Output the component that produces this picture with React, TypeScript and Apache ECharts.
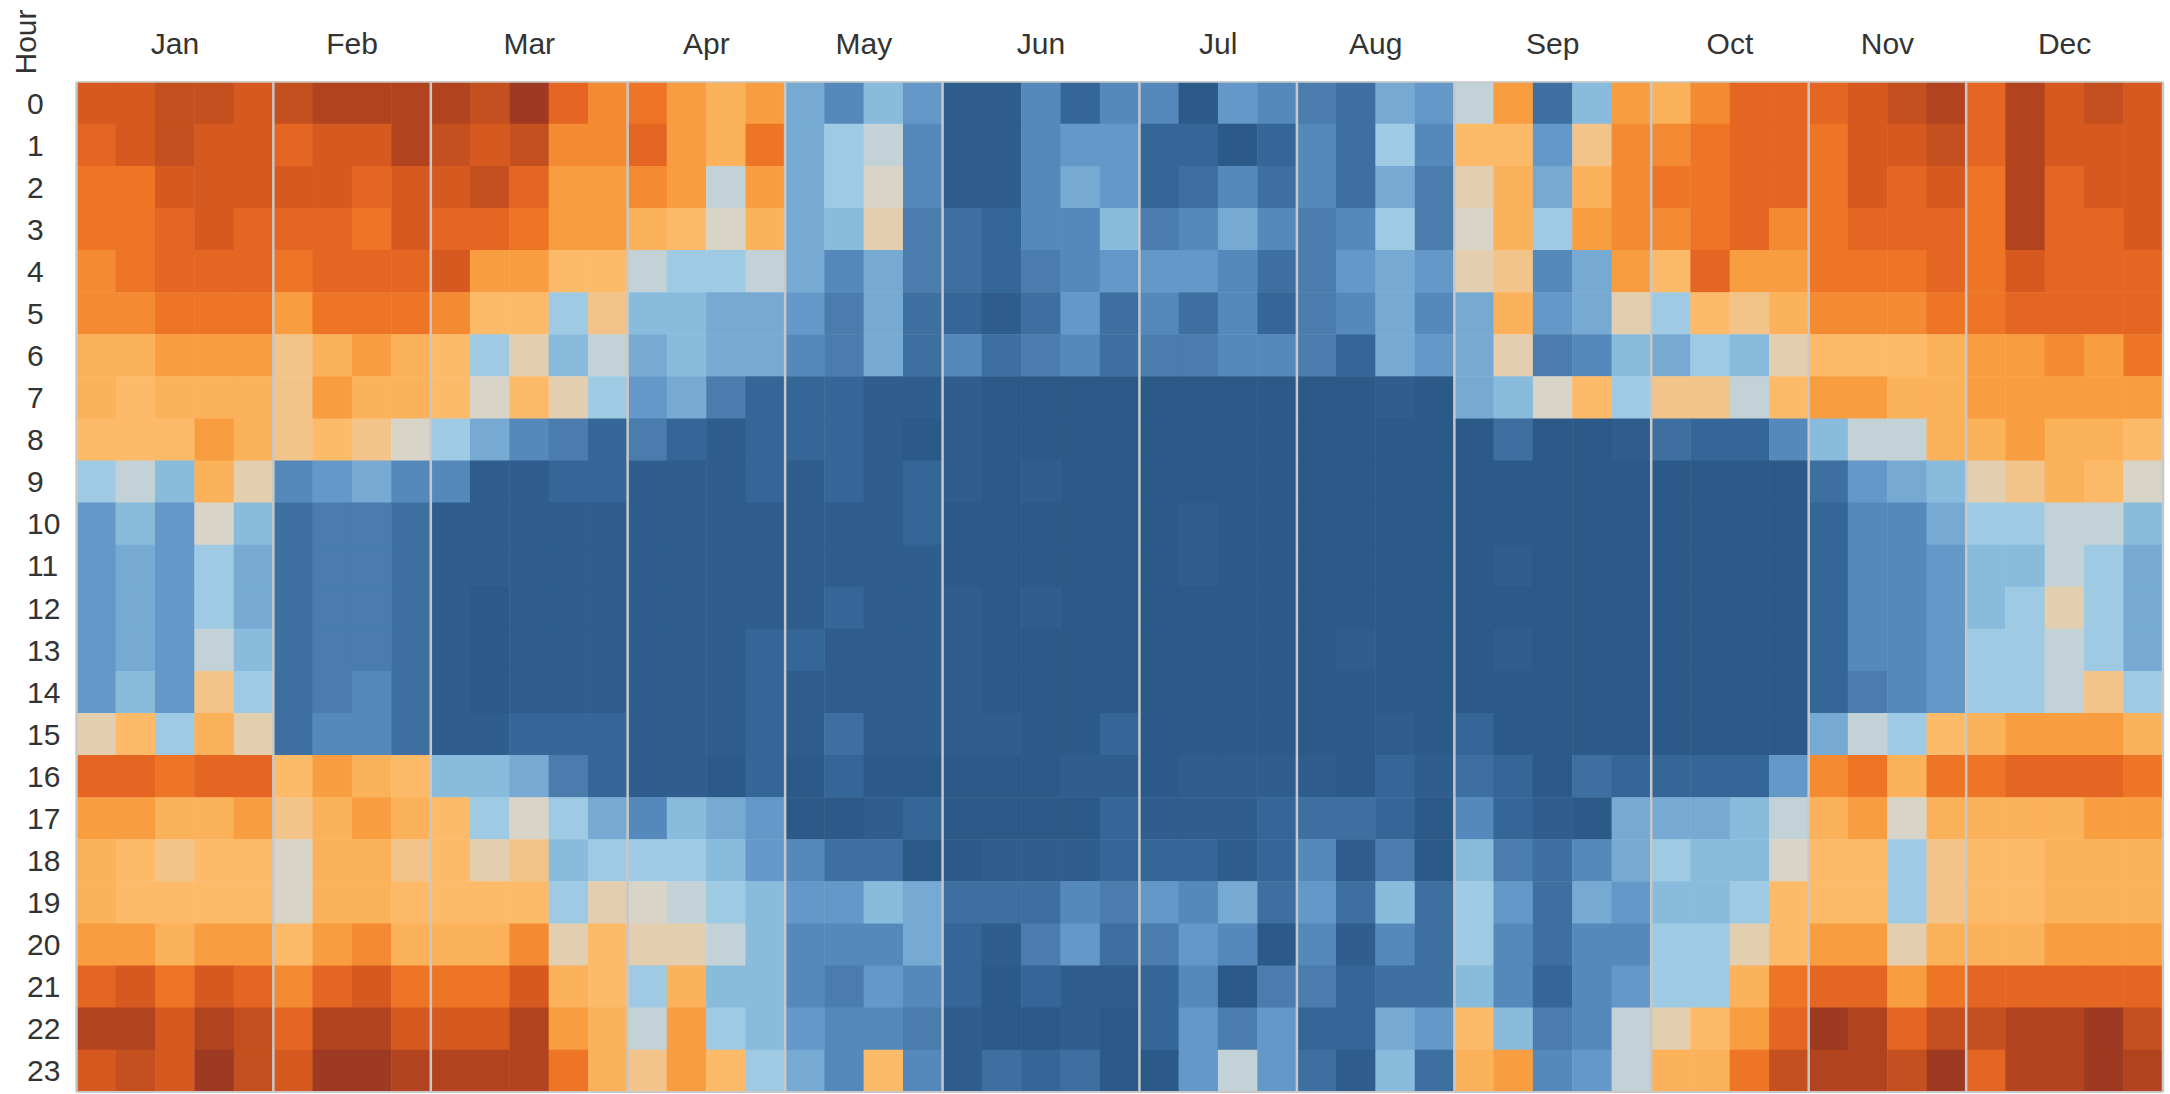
import React, { useEffect, useRef } from "react";
import * as echarts from "echarts";

// Month headers and number of weekly columns per month
const MONTHS = ["Jan", "Feb", "Mar", "Apr", "May", "Jun", "Jul", "Aug", "Sep", "Oct", "Nov", "Dec"];
const WEEKS_PER_MONTH = [5, 4, 5, 4, 4, 5, 4, 4, 5, 4, 4, 5];
const HOURS = ["0", "1", "2", "3", "4", "5", "6", "7", "8", "9", "10", "11", "12", "13", "14", "15", "16", "17", "18", "19", "20", "21", "22", "23"];

// Diverging palette: level 0 (dark orange) ... level 23 (dark blue)
const PALETTE = [
  "#9e3a21", "#b1441f", "#c5501f", "#d65a20", "#e56522", "#ee7526", "#f48b33", "#f89e40",
  "#fcb25a", "#fdbb6a", "#f2c48a", "#e3cfb0", "#d8d5c8", "#c3d2d6", "#9ecbe3", "#88bbdc",
  "#76aad2", "#6498c8", "#5689bb", "#4a7cae", "#3e6fa1", "#356698", "#2e5d8e", "#2b5988",
];

// Values per month: one row per hour (0..23), one column per week
const jan = [
  [3, 3, 2, 2, 3], [4, 3, 2, 3, 3], [5, 5, 3, 3, 3], [5, 5, 4, 3, 4], [6, 5, 4, 4, 4], [6, 6, 5, 5, 5],
  [8, 8, 7, 7, 7], [8, 9, 8, 8, 8], [9, 9, 9, 7, 8], [14, 13, 15, 8, 11], [17, 15, 17, 12, 15], [17, 16, 17, 14, 16],
  [17, 16, 17, 14, 16], [17, 16, 17, 13, 15], [17, 15, 17, 10, 14], [11, 9, 14, 8, 11], [4, 4, 5, 4, 4], [7, 7, 8, 8, 7],
  [8, 9, 10, 9, 9], [8, 9, 9, 9, 9], [7, 7, 8, 7, 7], [4, 3, 5, 3, 4], [1, 1, 3, 1, 2], [3, 2, 3, 0, 2],
];
const feb = [
  [2, 1, 1, 1], [4, 3, 3, 1], [3, 3, 4, 3], [4, 4, 5, 3], [5, 4, 4, 4], [7, 5, 5, 5],
  [10, 8, 7, 8], [10, 7, 8, 8], [10, 9, 10, 12], [18, 17, 16, 18], [20, 19, 19, 20], [20, 19, 19, 20],
  [20, 19, 19, 20], [20, 19, 19, 20], [20, 19, 18, 20], [20, 18, 18, 20], [9, 7, 8, 9], [10, 8, 7, 8],
  [12, 8, 8, 10], [12, 8, 8, 9], [9, 7, 6, 8], [6, 4, 3, 5], [4, 1, 1, 3], [3, 0, 0, 1],
];
const mar = [
  [1, 2, 0, 4, 6], [2, 3, 2, 6, 6], [3, 2, 4, 7, 7], [4, 4, 5, 7, 7], [3, 7, 7, 9, 9], [6, 9, 9, 14, 10],
  [9, 14, 11, 15, 13], [9, 12, 9, 11, 14], [14, 16, 18, 19, 21], [18, 22, 22, 21, 21], [22, 22, 22, 22, 22], [22, 22, 22, 22, 22],
  [22, 23, 22, 22, 22], [22, 23, 22, 22, 22], [22, 23, 22, 22, 22], [22, 22, 21, 21, 21], [15, 15, 16, 19, 21], [9, 14, 12, 14, 16],
  [9, 11, 10, 15, 14], [9, 9, 9, 14, 11], [8, 8, 6, 11, 9], [5, 5, 3, 8, 9], [3, 3, 1, 7, 8], [1, 1, 1, 5, 8],
];
const apr = [
  [5, 7, 8, 7], [4, 7, 8, 5], [6, 7, 13, 7], [8, 9, 12, 8], [13, 14, 14, 13], [15, 15, 16, 16],
  [16, 15, 16, 16], [17, 16, 19, 21], [19, 21, 22, 21], [22, 22, 22, 21], [22, 22, 22, 22], [22, 22, 22, 22],
  [22, 22, 22, 22], [22, 22, 22, 21], [22, 22, 22, 21], [22, 22, 22, 21], [22, 22, 23, 21], [18, 15, 16, 17],
  [14, 14, 15, 17], [12, 13, 14, 15], [11, 11, 13, 15], [14, 8, 15, 15], [13, 7, 14, 15], [10, 7, 9, 14],
];
const may = [
  [16, 18, 15, 17], [16, 14, 13, 18], [16, 14, 12, 18], [16, 15, 11, 19], [16, 18, 16, 19], [17, 19, 16, 20],
  [18, 19, 16, 20], [21, 21, 22, 22], [21, 21, 22, 23], [22, 21, 22, 21], [22, 22, 22, 21], [22, 22, 22, 22],
  [22, 21, 22, 22], [21, 22, 22, 22], [22, 22, 22, 22], [22, 20, 22, 22], [23, 21, 23, 23], [23, 23, 22, 21],
  [18, 20, 20, 23], [17, 17, 15, 16], [18, 18, 18, 16], [18, 19, 17, 18], [17, 18, 18, 19], [16, 18, 9, 18],
];
const jun = [
  [22, 22, 18, 21, 18], [22, 22, 18, 17, 17], [22, 22, 18, 16, 17], [20, 21, 18, 18, 15], [20, 21, 19, 18, 17], [21, 22, 20, 17, 20],
  [18, 20, 19, 18, 20], [22, 23, 23, 23, 23], [22, 23, 23, 23, 23], [22, 23, 22, 23, 23], [23, 23, 23, 23, 23], [23, 23, 23, 23, 23],
  [22, 23, 22, 23, 23], [22, 23, 23, 23, 23], [22, 23, 23, 23, 23], [22, 22, 23, 23, 21], [23, 23, 23, 22, 22], [23, 23, 23, 23, 21],
  [23, 22, 22, 22, 21], [20, 20, 20, 18, 19], [21, 22, 19, 17, 20], [21, 23, 21, 22, 22], [22, 23, 23, 22, 23], [22, 20, 21, 20, 23],
];
const jul = [
  [18, 23, 17, 18], [21, 21, 23, 21], [21, 20, 18, 20], [19, 18, 16, 18], [17, 17, 18, 20], [18, 20, 18, 21],
  [19, 19, 18, 18], [23, 23, 23, 23], [23, 23, 23, 23], [23, 23, 23, 23], [23, 22, 23, 23], [23, 22, 23, 23],
  [23, 23, 23, 23], [23, 23, 23, 23], [23, 23, 23, 23], [23, 23, 23, 23], [23, 22, 22, 22], [22, 22, 22, 21],
  [21, 21, 22, 21], [17, 18, 16, 20], [19, 17, 18, 23], [21, 18, 23, 19], [21, 17, 19, 17], [23, 17, 13, 17],
];
const aug = [
  [19, 20, 16, 17], [18, 20, 14, 18], [18, 20, 16, 19], [19, 18, 14, 19], [19, 17, 16, 17], [19, 18, 16, 18],
  [19, 21, 16, 17], [23, 23, 22, 23], [23, 23, 23, 23], [23, 23, 23, 23], [23, 23, 23, 23], [23, 23, 23, 23],
  [23, 23, 23, 23], [23, 22, 23, 23], [23, 23, 23, 23], [23, 23, 22, 23], [22, 23, 21, 22], [20, 20, 21, 23],
  [18, 22, 19, 23], [17, 20, 15, 20], [18, 22, 18, 20], [19, 21, 20, 20], [21, 21, 16, 17], [20, 22, 15, 20],
];
const sep = [
  [13, 7, 20, 15, 7], [9, 9, 17, 10, 6], [11, 8, 16, 8, 6], [12, 8, 14, 7, 6], [11, 10, 18, 16, 7], [16, 8, 17, 16, 11],
  [16, 11, 19, 18, 15], [16, 15, 12, 9, 14], [23, 20, 23, 23, 22], [23, 23, 23, 23, 23], [23, 23, 23, 23, 23], [23, 22, 23, 23, 23],
  [23, 23, 23, 23, 23], [23, 22, 23, 23, 23], [23, 23, 23, 23, 23], [21, 23, 23, 23, 23], [20, 21, 23, 20, 21], [18, 21, 22, 23, 16],
  [15, 19, 20, 18, 16], [14, 17, 20, 16, 17], [14, 18, 20, 18, 18], [15, 18, 21, 18, 17], [9, 15, 19, 18, 13], [8, 7, 18, 17, 13],
];
const oct = [
  [8, 6, 4, 4], [6, 5, 4, 4], [5, 5, 4, 4], [6, 5, 4, 6], [9, 4, 7, 7], [14, 9, 10, 8],
  [16, 14, 15, 11], [10, 10, 13, 9], [20, 21, 21, 18], [23, 23, 23, 23], [23, 23, 23, 23], [23, 23, 23, 23],
  [23, 23, 23, 23], [23, 23, 23, 23], [23, 23, 23, 23], [23, 23, 23, 23], [21, 21, 21, 17], [16, 16, 15, 13],
  [14, 15, 15, 12], [15, 15, 14, 9], [14, 14, 11, 9], [14, 14, 8, 5], [11, 9, 7, 4], [8, 8, 5, 2],
];
const nov = [
  [4, 3, 2, 1], [5, 3, 3, 2], [5, 3, 4, 3], [5, 4, 4, 4], [5, 5, 5, 4], [6, 6, 6, 5],
  [9, 9, 9, 8], [7, 7, 8, 8], [15, 13, 13, 8], [20, 17, 16, 15], [21, 18, 18, 16], [21, 18, 18, 17],
  [21, 18, 18, 17], [21, 18, 18, 17], [21, 19, 18, 17], [16, 13, 14, 9], [6, 5, 8, 5], [8, 7, 12, 8],
  [9, 9, 14, 10], [9, 9, 14, 10], [7, 7, 11, 8], [4, 4, 7, 5], [0, 1, 4, 2], [1, 1, 2, 0],
];
const dec = [
  [4, 1, 3, 2, 3], [4, 1, 3, 3, 3], [5, 1, 4, 3, 3], [5, 1, 4, 4, 3], [5, 3, 4, 4, 4], [5, 4, 4, 4, 4],
  [7, 7, 6, 7, 5], [7, 7, 7, 7, 7], [8, 7, 8, 8, 9], [11, 10, 8, 9, 12], [14, 14, 13, 13, 15], [15, 15, 13, 14, 16],
  [15, 14, 11, 14, 16], [14, 14, 13, 14, 16], [14, 14, 13, 10, 14], [8, 7, 7, 7, 8], [5, 4, 4, 4, 5], [8, 8, 8, 7, 7],
  [9, 9, 8, 8, 8], [9, 9, 8, 8, 8], [8, 8, 7, 7, 7], [4, 4, 4, 4, 4], [2, 1, 1, 0, 2], [4, 1, 1, 0, 1],
];

const MONTH_VALUES = [jan, feb, mar, apr, may, jun, jul, aug, sep, oct, nov, dec];

const FONT = "'Liberation Sans', Arial, Helvetica, sans-serif";
const TEXT_COLOR = "#333333";
const SEP_COLOR = "#c8c8c8";

export default function App() {
  const ref = useRef<HTMLDivElement>(null);

  useEffect(() => {
    if (!ref.current) return;
    const chart = echarts.init(ref.current, undefined, { renderer: "svg" });

    const weekLabels: string[] = [];
    const cells: number[][] = [];
    const monthSpans: number[][] = [];
    const boundaries: number[][] = [[0, 0]];
    let offset = 0;
    MONTHS.forEach((m, mi) => {
      const n = WEEKS_PER_MONTH[mi];
      for (let w = 0; w < n; w++) weekLabels.push(m + " W" + (w + 1));
      MONTH_VALUES[mi].forEach((row, h) => {
        row.forEach((v, w) => cells.push([offset + w, h, v]));
      });
      monthSpans.push([offset, offset + n, mi]);
      offset += n;
      boundaries.push([offset, 0]);
    });
    const N = offset;

    chart.setOption({
      animation: false,
      grid: { left: 76.5, top: 82, right: 7, bottom: 2 },
      xAxis: {
        type: "category",
        data: weekLabels,
        position: "top",
        axisLabel: { show: false },
        axisTick: { show: false },
        axisLine: { show: false },
        splitLine: { show: false },
      },
      yAxis: {
        type: "category",
        data: HOURS,
        inverse: true,
        axisLabel: { align: "left", margin: 49.5, fontSize: 30, color: TEXT_COLOR, fontFamily: FONT },
        axisTick: { show: false },
        axisLine: { show: false },
        splitLine: { show: false },
      },
      visualMap: {
        type: "continuous",
        show: false,
        min: 0,
        max: PALETTE.length - 1,
        dimension: 2,
        seriesIndex: 0,
        inRange: { color: PALETTE },
      },
      graphic: [
        {
          type: "text",
          x: 25,
          y: 42,
          rotation: Math.PI / 2,
          style: {
            text: "Hour",
            fontSize: 30,
            fontFamily: FONT,
            fill: TEXT_COLOR,
            align: "center",
            verticalAlign: "middle",
          },
        },
      ],
      series: [
        {
          type: "heatmap",
          data: cells,
          itemStyle: { borderWidth: 0 },
          emphasis: { disabled: true },
          silent: true,
        },
        {
          type: "custom",
          silent: true,
          z: 5,
          data: boundaries,
          renderItem: (params: any, api: any) => {
            const cs = params.coordSys;
            const b = api.value(0);
            const x = cs.x + (cs.width * b) / N;
            const children: any[] = [
              {
                type: "line",
                shape: { x1: x, y1: cs.y, x2: x, y2: cs.y + cs.height },
                style: { stroke: SEP_COLOR, lineWidth: 2.5 },
              },
            ];
            if (params.dataIndex === 0) {
              children.push({
                type: "line",
                shape: { x1: cs.x, y1: cs.y, x2: cs.x + cs.width, y2: cs.y },
                style: { stroke: SEP_COLOR, lineWidth: 1.5 },
              });
              children.push({
                type: "line",
                shape: { x1: cs.x, y1: cs.y + cs.height, x2: cs.x + cs.width, y2: cs.y + cs.height },
                style: { stroke: SEP_COLOR, lineWidth: 2 },
              });
            }
            return { type: "group", children };
          },
        },
        {
          type: "custom",
          silent: true,
          data: monthSpans,
          renderItem: (params: any, api: any) => {
            const cs = params.coordSys;
            const s = api.value(0);
            const e = api.value(1);
            const mi = api.value(2);
            return {
              type: "text",
              x: cs.x + (cs.width * (s + e)) / 2 / N,
              y: cs.y - 39,
              style: {
                text: MONTHS[mi],
                fontSize: 30,
                fontFamily: FONT,
                fill: TEXT_COLOR,
                align: "center",
                verticalAlign: "middle",
              },
            };
          },
        },
      ],
    });

    return () => chart.dispose();
  }, []);

  return (
    <div
      ref={ref}
      style={{ position: "fixed", left: 0, top: 0, width: "2170px", height: "1094px", background: "#ffffff" }}
    />
  );
}
